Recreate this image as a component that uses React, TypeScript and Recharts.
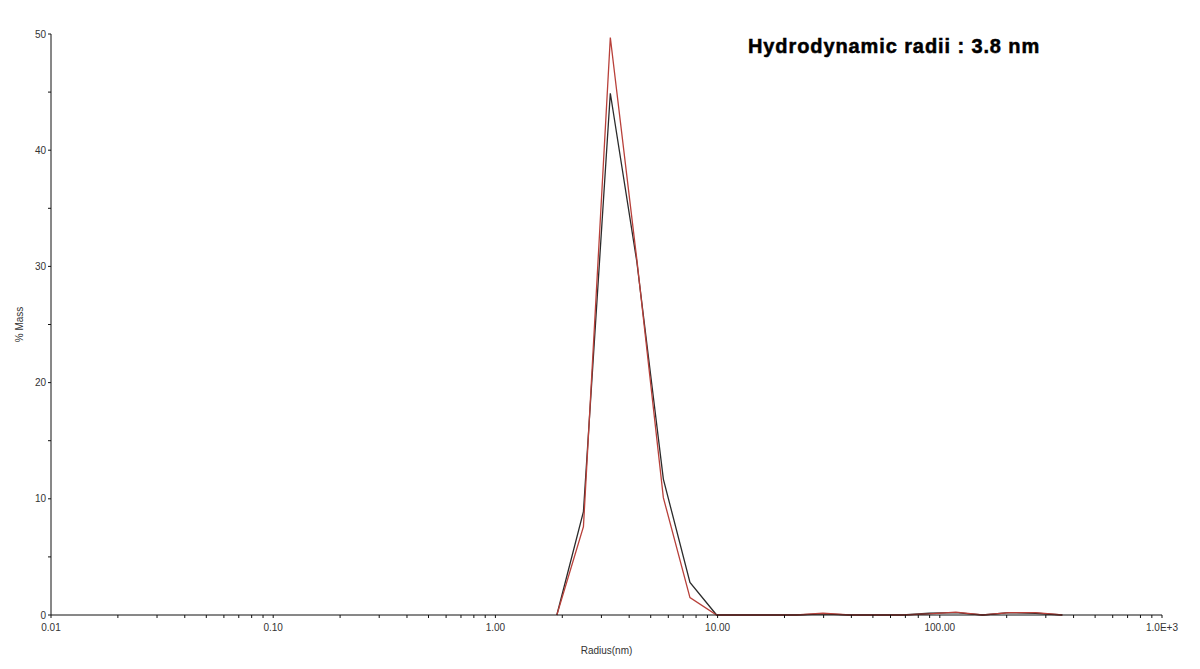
import { LineChart, Line, XAxis, YAxis } from 'recharts'

// Radius grid (nm) of the size distribution and % mass for the two runs
const radii = [1.89, 2.49, 3.29, 4.33, 5.7, 7.51, 9.9, 13.0, 17.2, 22.6, 29.8, 39.3, 51.7, 68.1, 89.8, 118, 156, 205, 270, 356]
const massRed = [0, 7.6, 49.7, 30.6, 10.1, 1.5, 0, 0, 0, 0, 0.15, 0, 0, 0, 0.1, 0.25, 0, 0.2, 0.2, 0]
const massBlack = [0, 8.9, 44.9, 30.4, 11.7, 2.8, 0, 0, 0, 0, 0.1, 0, 0, 0, 0.15, 0.2, 0, 0.2, 0.15, 0]

const majorTicks = [0.01, 0.1, 1, 10, 100, 1000]
const majorLabels = ['0.01', '0.10', '1.00', '10.00', '100.00', '1.0E+3']
const minorSteps = [2, 3, 4, 5, 6, 7, 8, 9]

const yTicks = [0, 5, 10, 15, 20, 25, 30, 35, 40, 45, 50]
const yLabelled = [0, 10, 20, 30, 40, 50]

const data = radii.map((r, i) => ({ radius: r, red: massRed[i], black: massBlack[i] }))

const xTicks: number[] = []
majorTicks.forEach((m, i) => {
  xTicks.push(m)
  if (i < majorTicks.length - 1) minorSteps.forEach((s) => xTicks.push(m * s))
})

function xLabel(v: number) {
  const i = majorTicks.findIndex((m) => Math.abs(v - m) / m < 1e-6)
  return i >= 0 ? majorLabels[i] : ''
}

const font = 'Arial, "Liberation Sans", sans-serif'

export default function App() {
  return (
    <div style={{ position: 'absolute', left: 0, top: 0, width: 1200, height: 669, background: '#fff' }}>
      <LineChart width={1200} height={669} data={data} margin={{ top: 34, right: 38, left: 0, bottom: 34 }}>
        <XAxis
          dataKey="radius"
          type="number"
          scale="log"
          domain={[0.01, 1000]}
          allowDataOverflow
          ticks={xTicks}
          interval={0}
          height={20}
          tickFormatter={xLabel}
          tickSize={3}
          tickMargin={6}
          stroke="#111"
          tick={{ fontSize: 10, fill: '#333', fontFamily: font }}
          label={{ value: 'Radius(nm)', position: 'bottom', offset: 12, style: { fontSize: 10, fill: '#333', fontFamily: font } }}
        />
        <YAxis
          type="number"
          domain={[0, 50]}
          ticks={yTicks}
          interval={0}
          width={51}
          tickFormatter={(v: number) => (yLabelled.includes(v) ? String(v) : '')}
          tickSize={3}
          tickMargin={2}
          stroke="#111"
          tick={{ fontSize: 10, fill: '#333', fontFamily: font }}
          label={{ value: '% Mass', angle: -90, position: 'center', dx: -6, style: { fontSize: 10, fill: '#333', fontFamily: font } }}
        />
        <Line dataKey="black" stroke="#2b2b2b" strokeWidth={1.3} dot={false} isAnimationActive={false} />
        <Line dataKey="red" stroke="#b8403a" strokeWidth={1.3} dot={false} isAnimationActive={false} />
      </LineChart>
      <div
        style={{
          position: 'absolute',
          left: 748,
          top: 36,
          fontFamily: font,
          fontWeight: 'bold',
          fontSize: 20,
          lineHeight: '20px',
          letterSpacing: 0.9,
          WebkitTextStroke: '0.5px #000',
          color: '#000',
          whiteSpace: 'nowrap',
        }}
      >
        Hydrodynamic radii : 3.8 nm
      </div>
    </div>
  )
}
